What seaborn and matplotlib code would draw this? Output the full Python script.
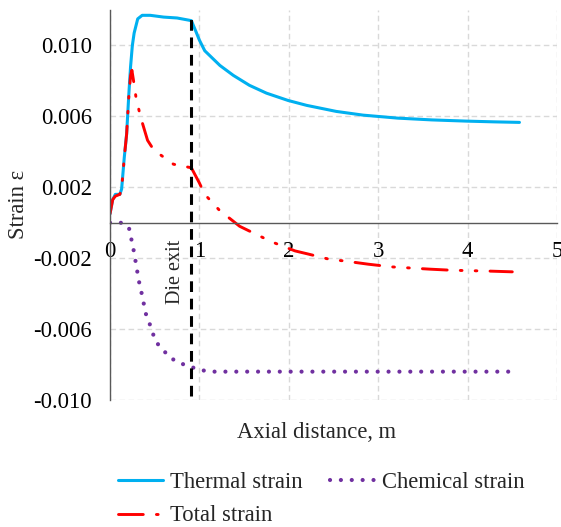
import matplotlib
matplotlib.use("Agg")
import matplotlib.pyplot as plt
import matplotlib.ticker as mticker
import seaborn as sns
import pandas as pd

# =========================================================
# DATA
# =========================================================
thermal_x = [0, 0.03, 0.06, 0.11, 0.13, 0.16, 0.186, 0.21, 0.23, 0.25, 0.27, 0.31, 0.36,
             0.45, 0.6, 0.75, 0.91, 0.96, 1.0, 1.06, 1.23, 1.38, 1.56, 1.75, 1.99, 2.2,
             2.53, 2.83, 3.22, 3.6, 4.0, 4.3, 4.58]
thermal_y = [0.0005, 0.0013, 0.0016, 0.0016, 0.0019, 0.0037, 0.0050, 0.0072, 0.0088, 0.0100,
             0.0107, 0.0115, 0.0117, 0.0117, 0.0116, 0.01155, 0.0114, 0.0108, 0.0103, 0.0097,
             0.00887, 0.00831, 0.00775, 0.00731, 0.0069, 0.00662, 0.00628, 0.00607, 0.0059,
             0.0058, 0.00573, 0.00569, 0.00566]

total_x = [0, 0.03, 0.06, 0.11, 0.13, 0.16, 0.186, 0.21, 0.23, 0.245, 0.27, 0.29, 0.34, 0.42,
           0.49, 0.6, 0.71, 0.91, 1.0, 1.06, 1.23, 1.34, 1.45, 1.58, 1.81, 2.07, 2.22, 2.46,
           2.61, 2.89, 3.15, 3.58, 3.82, 4.25, 4.5]
total_y = [0.0005, 0.0013, 0.0015, 0.0016, 0.0019, 0.0037, 0.0050, 0.0071, 0.0083, 0.0086,
           0.0078, 0.0071, 0.0060, 0.00465, 0.0041, 0.0037, 0.0033, 0.0031, 0.00224, 0.0016,
           0.00067, 0.00024, -0.0002, -0.00052, -0.00108, -0.00159, -0.00177, -0.00207,
           -0.00215, -0.00234, -0.00249, -0.00262, -0.00268, -0.00273, -0.00277]

chem_x = [0, 0.12, 0.21, 0.26, 0.28, 0.30, 0.32, 0.34, 0.37, 0.39, 0.43, 0.47, 0.51, 0.58,
          0.67, 0.77, 0.89, 1.0, 1.13, 1.5, 2.0, 3.0, 4.0, 4.47]
chem_y = [0, 0, -0.00024, -0.00143, -0.0020, -0.0026, -0.0032, -0.0037, -0.0043, -0.0050,
          -0.0055, -0.0061, -0.0067, -0.0071, -0.0076, -0.0079, -0.0081, -0.0083, -0.0084,
          -0.0084, -0.0084, -0.0084, -0.0084, -0.0084]

die_exit_x = 0.91
x_ticks = [0, 1, 2, 3, 4, 5]
y_ticks = [-0.010, -0.006, -0.002, 0.002, 0.006, 0.010]

# =========================================================
# STYLE
# =========================================================
sns.set_theme(style="white")
plt.rcParams["font.family"] = ["Liberation Serif", "DejaVu Serif"]
plt.rcParams["axes.unicode_minus"] = False
FS = 16.3

fig = plt.figure(figsize=(5.61, 5.27), dpi=100)
ax = fig.add_axes([110 / 561, 1 - 400 / 527, 447 / 561, 390 / 527])

thermal = pd.DataFrame({"x": thermal_x, "y": thermal_y})
total = pd.DataFrame({"x": total_x, "y": total_y})
chem = pd.DataFrame({"x": chem_x, "y": chem_y})

sns.lineplot(data=thermal, x="x", y="y", ax=ax, sort=False, estimator=None,
             color="#00B0F0", linewidth=2.2, label="Thermal strain")
sns.lineplot(data=total, x="x", y="y", ax=ax, sort=False, estimator=None,
             color="#FF0000", linewidth=2.1, label="Total strain",
             linestyle=(0, (8.5, 4.5, 0.6, 4.5, 0.6, 4.5)), dash_capstyle="round")
sns.lineplot(data=chem, x="x", y="y", ax=ax, sort=False, estimator=None,
             color="#7030A0", linewidth=3.0, label="Chemical strain",
             linestyle=(0, (0.01, 2.6)), dash_capstyle="round")

# die exit marker
ax.plot([die_exit_x, die_exit_x], [-0.0098, 0.0116], color="black", linewidth=2.2,
        linestyle=(0, (3.5, 2.2)), zorder=4)
ax.text(0.73, -0.00275, "Die exit", rotation=90, ha="center", va="center", fontsize=14.5)

# =========================================================
# AXES
# =========================================================
ax.set_xlim(0, 5)
ax.set_ylim(-0.010, 0.012)
ax.set_xticks(x_ticks)
ax.set_yticks(y_ticks)
ax.yaxis.set_major_formatter(mticker.FuncFormatter(lambda v, _: f"{v:.3f}"))
ax.xaxis.set_major_formatter(mticker.FuncFormatter(lambda v, _: f"{int(v)}"))
ax.tick_params(axis="both", length=0, labelsize=FS, colors="black")
ax.tick_params(axis="x", pad=13)
ax.tick_params(axis="y", pad=13)

ax.grid(True, color="#d9d9d9", linewidth=1.0, linestyle=(0, (4, 2.5)))
ax.set_axisbelow(True)
for s in ["top", "right"]:
    ax.spines[s].set_visible(False)
ax.spines["bottom"].set_position(("data", 0))
ax.spines["bottom"].set_color("#595959")
ax.spines["left"].set_color("#595959")
ax.spines["bottom"].set_linewidth(1.0)
ax.spines["left"].set_linewidth(1.0)
ax.set_xlabel("")
ax.set_ylabel("")

fig.text(317 / 561, 1 - 432 / 527, "Axial distance, m", ha="center", va="center", fontsize=FS)
fig.text(18 / 561, 1 - 204 / 527, "Strain ε", ha="center", va="center",
         rotation=90, fontsize=FS)

ax.get_legend().remove()
h, l = ax.get_legend_handles_labels()
fig.legend(h, l, ncol=2, loc="upper left", bbox_to_anchor=(118 / 561, 1 - 472 / 527),
           frameon=False, fontsize=FS, handlelength=2.0, handletextpad=0.3,
           columnspacing=1.2, labelspacing=0.55, borderpad=0, borderaxespad=0)

fig.savefig("out.png", dpi=100)
